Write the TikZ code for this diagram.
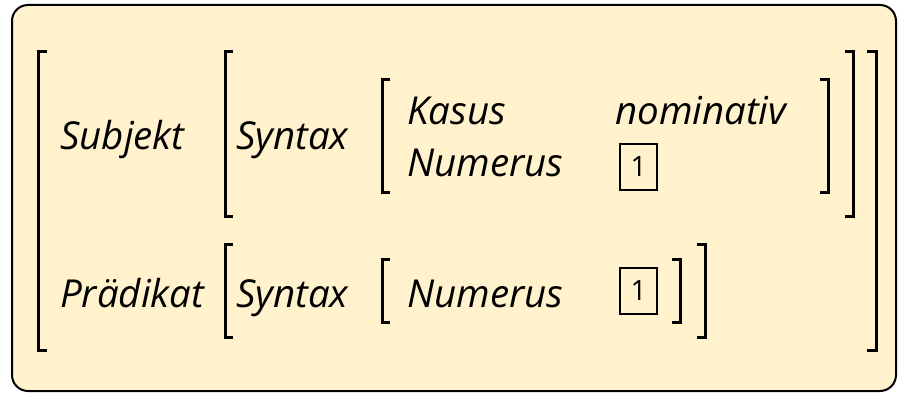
\documentclass[tikz,border=0pt]{standalone}
\usepackage{fontspec}
\setmainfont{Open Sans}
\usepackage{xcolor}
\usetikzlibrary{positioning}
\definecolor{C_FILL}{HTML}{FFF2CC}

\begin{document}
\begin{tikzpicture}[
  x=1pt, y=-1pt,
  frame/.style={draw, line width=2pt, rounded corners=16pt, fill=C_FILL},
  attr/.style={font=\fontsize{38.5}{40}\selectfont\itshape, inner sep=0pt, anchor=base west},
  tag/.style={draw, line width=1.1pt, minimum width=37pt, minimum height=46pt,
              inner sep=0pt, font=\fontsize{28}{30}\selectfont},
  brk/.style={line width=3pt},
]
\useasboundingbox (0,0) rectangle (899,395);

%% Frame
\draw[frame] (12,5) rectangle (896,391);

%% Subjekt row
\node[attr] (subj)  at (60,150)  {Subjekt};
\node[attr] (syn1)  at (236,150) {Syntax};
\node[attr] (kas)   at (407,125) {Kasus};
\node[attr] (num1)  at (407,177) {Numerus};
\node[attr] (nom)   at (615,125) {nominativ};
\node[tag]  (tag1)  at (638.5,167) {1};

%% Praedikat row
\node[attr] (praed) at (60,307)  {Prädikat};
\node[attr] (syn2)  at (236,307) {Syntax};
\node[attr] (num2)  at (407,307) {Numerus};
\node[tag]  (tag2)  at (638.5,291) {1};

%% Outer brackets
\draw[brk] (47,52) -- (38.5,52) -- (38.5,350) -- (47,350);
\draw[brk] (867,52) -- (876,52) -- (876,350) -- (867,350);

%% Subjekt brackets
\draw[brk] (233,52) -- (225,52) -- (225,217) -- (233,217);
\draw[brk] (845,52) -- (853,52) -- (853,217) -- (845,217);
\draw[brk] (390,80) -- (382,80) -- (382,193) -- (390,193);
\draw[brk] (820,80) -- (828,80) -- (828,193) -- (820,193);

%% Praedikat brackets
\draw[brk] (233,245) -- (225,245) -- (225,337) -- (233,337);
\draw[brk] (697,245) -- (705,245) -- (705,337) -- (697,337);
\draw[brk] (390,260) -- (382,260) -- (382,322) -- (390,322);
\draw[brk] (672,260) -- (680,260) -- (680,322) -- (672,322);

\end{tikzpicture}
\end{document}
